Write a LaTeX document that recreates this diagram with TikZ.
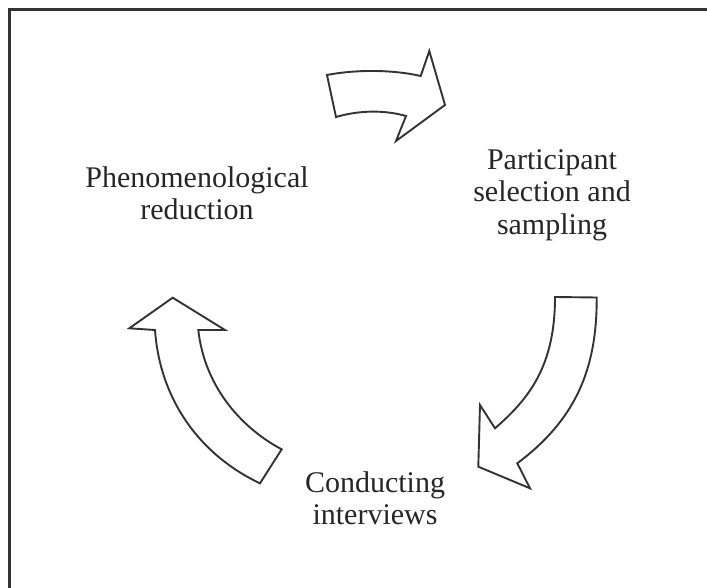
\documentclass[tikz,border=0pt]{standalone}
\usepackage{fontspec}
\setmainfont{Liberation Serif}
\begin{document}
\begin{tikzpicture}[x=1pt,y=-1pt,
  frameline/.style={line width=2.4pt,draw=black!80},
  bigarrow/.style={line width=1.9pt,draw=black!80,line join=miter,fill=white},
  stage/.style={align=center,text=black!85,font=\fontsize{30}{32.5}\selectfont,inner sep=0pt}]
  \useasboundingbox (0,0) rectangle (707,588);
  % open frame: left and top edges
  \draw[frameline] (9.5,588) -- (9.5,9.5) -- (707,9.5);

  % stage labels
  \node[stage] (reduce) at (197,193) {Phenomenological\\reduction};
  \node[stage] (select) at (552,195) {Participant\\selection and\\sampling};
  \node[stage] (interview) at (375,498) {Conducting\\interviews};

  % block arrow pointing right (top)
  \draw[bigarrow] (327,75) .. controls (358,69) and (395,70) .. (420.7,76)
    -- (429.3,51) -- (445,105) -- (396,141) -- (406,116)
    .. controls (385,110) and (360,110) .. (336,117) -- cycle;

  % curved block arrow pointing down-left (right side)
  \draw[bigarrow] (555,297) -- (596.7,297.5)
    .. controls (597,370) and (575,420) .. (517.3,463.3)
    -- (530,488.3) -- (478.3,466.7) -- (480,405) -- (495,428.3)
    .. controls (530,398) and (555,365) .. cycle;

  % curved block arrow pointing up (left side)
  \draw[bigarrow] (260,483.3)
    .. controls (200,455) and (160,400) .. (155,330)
    -- (129.3,328.3) -- (172.7,297.7) -- (225,330) -- (198.3,330)
    .. controls (205,390) and (245,430) .. (281.7,449.3) -- cycle;
\end{tikzpicture}
\end{document}
